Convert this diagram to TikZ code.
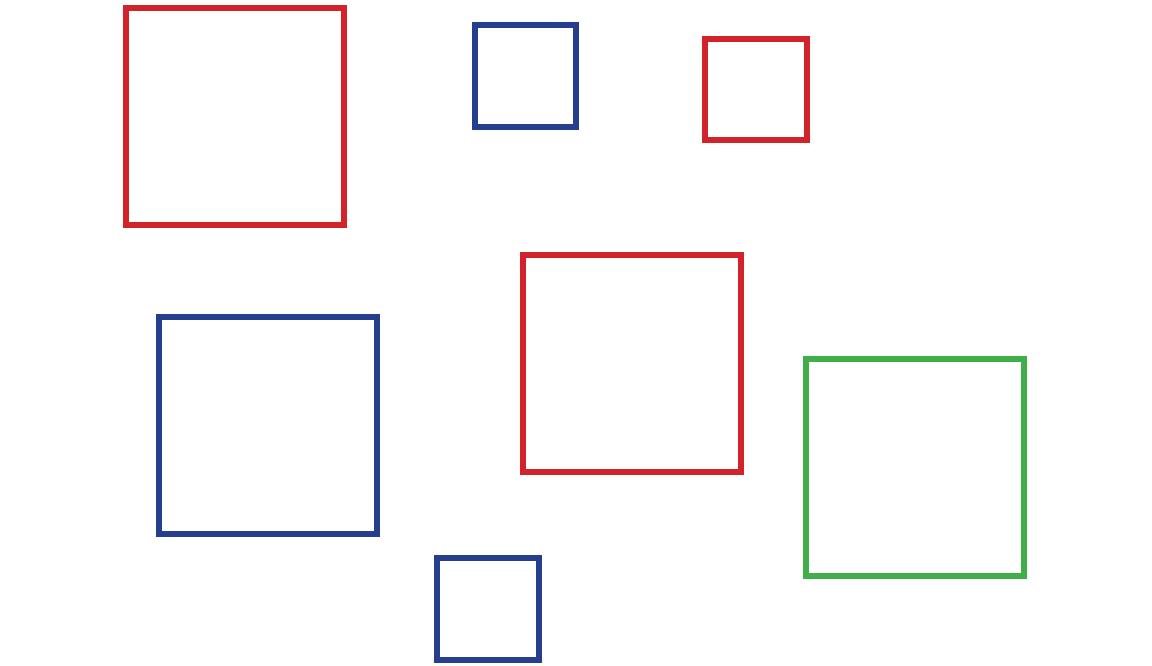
\documentclass[tikz,border=0pt]{standalone}
\usepackage{tikz}
\definecolor{sqred}{RGB}{210,35,42}
\definecolor{sqblue}{RGB}{37,63,142}
\definecolor{sqgreen}{RGB}{64,174,73}

\begin{document}
\begin{tikzpicture}[x=0.5pt,y=-0.5pt]
  \tikzstyle{sq}=[line width=3pt]
  \useasboundingbox (0,0) rectangle (1152,665);
  % big squares
  \draw[sq,sqred] (126,8) rectangle ++(218,217);
  \draw[sq,sqblue] (159,317) rectangle ++(218,217);
  \draw[sq,sqred] (523,255) rectangle ++(218,217);
  \draw[sq,sqgreen] (806,359) rectangle ++(218,217);
  % small squares
  \draw[sq,sqblue] (475,25) rectangle ++(101,102);
  \draw[sq,sqred] (705,39) rectangle ++(102,101);
  \draw[sq,sqblue] (437,558) rectangle ++(102,102);
\end{tikzpicture}
\end{document}
